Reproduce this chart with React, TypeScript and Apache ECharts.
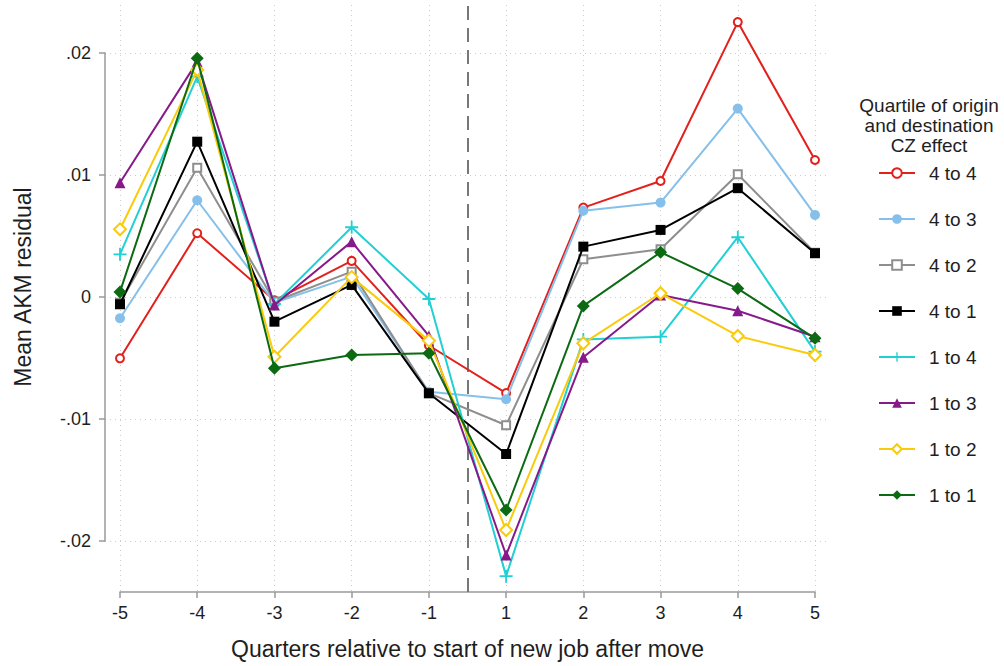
import React, { useEffect, useRef } from 'react';
import * as echarts from 'echarts';

// Categories (quarters relative to start of new job)
const quarterLabels = ['-5', '-4', '-3', '-2', '-1', '1', '2', '3', '4', '5'];

// Series names (legend order)
const seriesNames = ['4 to 4', '4 to 3', '4 to 2', '4 to 1', '1 to 4', '1 to 3', '1 to 2', '1 to 1'];

// Mean AKM residual values
const q4to4 = [-0.00505, 0.0052, -0.0003, 0.00293, -0.0040, -0.0079, 0.0073, 0.00948, 0.0225, 0.0112];
const q4to3 = [-0.00177, 0.0079, -0.0005, 0.00164, -0.0078, -0.0084, 0.00705, 0.00771, 0.01541, 0.0067];
const q4to2 = [-0.0005, 0.01057, -0.0004, 0.00205, -0.0079, -0.01054, 0.00307, 0.00389, 0.01003, 0.0036];
const q4to1 = [-0.00062, 0.0127, -0.00205, 0.00096, -0.00792, -0.01289, 0.0041, 0.00547, 0.00889, 0.00356];
const q1to4 = [0.00347, 0.01803, -0.0006, 0.00569, -0.00019, -0.0229, -0.0035, -0.00328, 0.00487, -0.0045];
const q1to3 = [0.00934, 0.01926, -0.00068, 0.00451, -0.00322, -0.02117, -0.00497, 0.00014, -0.00115, -0.00328];
const q1to2 = [0.00552, 0.01858, -0.00492, 0.0016, -0.0036, -0.01912, -0.00382, 0.00028, -0.00322, -0.00478];
const q1to1 = [0.00039, 0.01954, -0.00587, -0.00478, -0.00464, -0.01748, -0.00076, 0.00364, 0.00066, -0.00341];

const seriesValues = [q4to4, q4to3, q4to2, q4to1, q1to4, q1to3, q1to2, q1to1];

// Y tick labels
const yTickValues = [-0.02, -0.01, 0, 0.01, 0.02];
const yTickLabels = ['-.02', '-.01', '0', '.01', '.02'];

const FONT = "'Liberation Sans', Arial, Helvetica, sans-serif";
const TEXT = '#1e1e1e';
const AXIS = '#9a9a9a';
const GRIDLINE = '#cccccc';
const PLUS = 'path://M8.6,0H11.4V8.6H20V11.4H11.4V20H8.6V11.4H0V8.6H8.6Z';

const markerStyles = [
  { color: '#e2211c', symbol: 'emptyCircle', size: 8, border: 1.6 },
  { color: '#86c0ea', symbol: 'circle', size: 10, border: 0 },
  { color: '#8e8e8e', symbol: 'emptyRect', size: 8, border: 1.6 },
  { color: '#000000', symbol: 'rect', size: 10, border: 0 },
  { color: '#22d0d4', symbol: PLUS, size: 13, border: 0 },
  { color: '#861a8a', symbol: 'triangle', size: 11, border: 0 },
  { color: '#f9cb0a', symbol: 'emptyDiamond', size: 12, border: 1.6 },
  { color: '#0c6a12', symbol: 'diamond', size: 13, border: 0 },
];

export default function App() {
  const ref = useRef<HTMLDivElement>(null);

  useEffect(() => {
    if (!ref.current) return;
    const chart = echarts.init(ref.current, null, { renderer: 'svg' });

    const series: any[] = seriesValues.map((vals, k) => {
      const st = markerStyles[k];
      const s: any = {
        name: seriesNames[k],
        type: 'line',
        xAxisIndex: 0,
        yAxisIndex: 0,
        data: vals.map((v, i) => [i, v]),
        symbol: st.symbol,
        symbolSize: st.size,
        showSymbol: true,
        lineStyle: { color: st.color, width: 2 },
        itemStyle: { color: st.color, borderWidth: st.border },
        emphasis: { disabled: true },
        z: 3 + k,
      };
      if (k === 0) {
        s.markLine = {
          silent: true,
          symbol: 'none',
          label: { show: false },
          lineStyle: { color: '#777777', width: 2, type: [14, 8] },
          data: [{ xAxis: 4.5 }],
          z: 2,
        };
      }
      return s;
    });

    const option: any = {
      animation: false,
      backgroundColor: '#ffffff',
      textStyle: { fontFamily: FONT },
      grid: [
        { left: 120, right: 189, top: 5, bottom: 74 },
        { left: 105, right: 174, top: 53, bottom: 125 },
      ],
      xAxis: [
        {
          gridIndex: 0,
          type: 'value',
          min: 0,
          max: 9,
          interval: 1,
          position: 'bottom',
          axisLine: { show: true, onZero: false, lineStyle: { color: AXIS, width: 1.5 } },
          axisTick: { show: true, length: 6, lineStyle: { color: AXIS, width: 1.5 } },
          axisLabel: {
            formatter: (v: number) => quarterLabels[Math.round(v)] ?? '',
            fontSize: 18,
            color: TEXT,
            margin: 12,
            fontFamily: FONT,
          },
          splitLine: { show: true, lineStyle: { color: GRIDLINE, type: [1, 4], width: 1 } },
          name: 'Quarters relative to start of new job after move',
          nameLocation: 'middle',
          nameGap: 45,
          nameTextStyle: { fontSize: 23, color: TEXT, fontFamily: FONT },
        },
        {
          gridIndex: 1,
          type: 'value',
          min: -0.2,
          max: 9.2,
          show: false,
          axisLine: { show: false, onZero: false },
        },
      ],
      yAxis: [
        {
          gridIndex: 0,
          type: 'value',
          min: -0.0242,
          max: 0.0239,
          show: false,
          axisLine: { show: false, onZero: false },
        },
        {
          gridIndex: 1,
          type: 'value',
          min: -0.02,
          max: 0.02,
          interval: 0.01,
          position: 'left',
          axisLine: { show: true, onZero: false, lineStyle: { color: AXIS, width: 1.5 } },
          axisTick: { show: true, length: 6, lineStyle: { color: AXIS, width: 1.5 } },
          axisLabel: {
            formatter: (v: number) => {
              const idx = yTickValues.findIndex((t) => Math.abs(t - v) < 1e-9);
              return idx >= 0 ? yTickLabels[idx] : '';
            },
            fontSize: 18,
            color: TEXT,
            margin: 14,
            fontFamily: FONT,
          },
          splitLine: { show: true, lineStyle: { color: GRIDLINE, type: [1, 4], width: 1 } },
        },
      ],
      legend: {
        orient: 'vertical',
        left: 873,
        top: 158,
        itemWidth: 36,
        itemHeight: 12,
        itemGap: 26,
        data: seriesNames,
        textStyle: { fontFamily: FONT, fontSize: 19, color: TEXT, lineHeight: 20, padding: [0, 0, 0, 9] },
      },
      graphic: [
        {
          type: 'text',
          x: 23,
          y: 287,
          rotation: Math.PI / 2,
          style: {
            text: 'Mean AKM residual',
            fontFamily: FONT,
            fontSize: 23,
            fill: TEXT,
            align: 'center',
            verticalAlign: 'middle',
          },
        },
        {
          type: 'text',
          x: 929,
          y: 95,
          style: {
            text: 'Quartile of origin\nand destination\nCZ effect',
            fontFamily: FONT,
            fontSize: 19,
            lineHeight: 20,
            fill: TEXT,
            align: 'center',
            verticalAlign: 'top',
          },
        },
      ],
      series,
    };

    chart.setOption(option);
    return () => chart.dispose();
  }, []);

  return (
    <div
      ref={ref}
      style={{ position: 'fixed', left: 0, top: 0, width: 1004, height: 666, background: '#fff' }}
    />
  );
}
